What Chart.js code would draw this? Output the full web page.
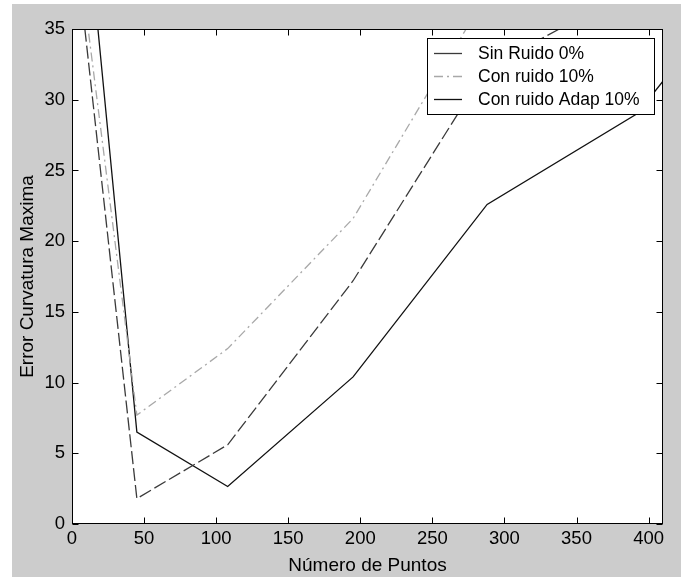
<!DOCTYPE html>
<html>
<head>
<meta charset="utf-8">
<script src="https://cdn.jsdelivr.net/npm/chart.js@4.4.1/dist/chart.umd.min.js"></script>
<style>
  html, body { margin: 0; padding: 0; background: #fff; }
  #wrap { width: 681px; height: 577px; position: relative; }
</style>
</head>
<body>
<div id="wrap"><canvas id="grafico" width="681" height="577"></canvas></div>
<script>
// Datos
const numPuntos = [5, 45, 108, 195, 288, 392, 420];
const sinRuido = [38.6, 1.8, 5.6, 17.2, 32.3, 37.9, null];
const conRuido = [40.0, 7.7, 12.4, 21.6, 37.5, null, null];
const conRuidoAdap = [48.7, 6.5, 2.65, 10.4, 22.6, 29.0, 32.6];

const etiquetas = ['Sin Ruido 0%', 'Con ruido 10%', 'Con ruido Adap 10%'];
const xTicks = [0, 50, 100, 150, 200, 250, 300, 350, 400];
const yTicks = [0, 5, 10, 15, 20, 25, 30, 35];

const FUENTE = '"Liberation Sans", Arial, sans-serif';

function puntos(serie) {
    const out = [];
    serie.forEach((v, i) => {
        if (v !== null) out.push({ x: numPuntos[i], y: v });
    });
    return out;
}

const estilos = [
    { color: '#3a3a3a', dash: [13, 4], width: 1.3 },
    { color: '#a8a8a8', dash: [9, 4, 2, 4], width: 1.3 },
    { color: '#111111', dash: [], width: 1.3 }
];

// Marco tipo MATLAB: fondo gris, caja, ticks hacia dentro, leyenda y titulos
const marcoMatlab = {
    id: 'marcoMatlab',
    beforeDraw(chart) {
        const { ctx, chartArea: a } = chart;
        ctx.save();
        ctx.fillStyle = '#ffffff';
        ctx.fillRect(0, 0, chart.width, chart.height);
        ctx.fillStyle = '#cccccc';
        ctx.fillRect(12, 4, chart.width - 12, chart.height - 4);
        ctx.fillStyle = '#ffffff';
        ctx.fillRect(a.left, a.top, a.right - a.left, a.bottom - a.top);
        ctx.restore();
    },
    afterDatasetsDraw(chart) {
        const { ctx, chartArea: a, scales } = chart;
        const L = Math.round(a.left) + 0.5, R = Math.round(a.right) - 0.5;
        const T = Math.round(a.top) + 0.5, B = Math.round(a.bottom) - 0.5;
        const tk = 6;
        ctx.save();
        ctx.strokeStyle = '#000';
        ctx.lineWidth = 1;
        ctx.setLineDash([]);
        ctx.beginPath();
        xTicks.forEach(v => {
            const px = Math.round(scales.x.getPixelForValue(v)) + 0.5;
            ctx.moveTo(px, B); ctx.lineTo(px, B - tk);
            ctx.moveTo(px, T); ctx.lineTo(px, T + tk);
        });
        yTicks.forEach(v => {
            const py = Math.round(scales.y.getPixelForValue(v)) + 0.5;
            ctx.moveTo(L, py); ctx.lineTo(L + tk, py);
            ctx.moveTo(R, py); ctx.lineTo(R - tk, py);
        });
        ctx.stroke();
        ctx.strokeRect(L, T, R - L, B - T);

        // leyenda
        const lx = 427.5, ly = 38.5, lw = 227, lh = 76;
        ctx.fillStyle = '#ffffff';
        ctx.fillRect(lx, ly, lw, lh);
        ctx.strokeStyle = '#000';
        ctx.strokeRect(lx, ly, lw, lh);
        ctx.font = '17.5px ' + FUENTE;
        ctx.textBaseline = 'middle';
        ctx.textAlign = 'left';
        etiquetas.forEach((t, i) => {
            const y = 53 + i * 23;
            const e = estilos[i];
            ctx.strokeStyle = e.color;
            ctx.lineWidth = e.width;
            ctx.setLineDash(i === 0 ? [] : e.dash);
            ctx.beginPath();
            ctx.moveTo(434, y + 0.5);
            ctx.lineTo(462, y + 0.5);
            ctx.stroke();
            ctx.fillStyle = '#000';
            ctx.fillText(t, 478, y + 1);
        });
        ctx.setLineDash([]);

        // titulos de ejes
        ctx.font = '19px ' + FUENTE;
        ctx.fillStyle = '#000';
        ctx.textAlign = 'center';
        ctx.fillText('Número de Puntos', (a.left + a.right) / 2, 566);
        ctx.translate(28, (a.top + a.bottom) / 2);
        ctx.rotate(-Math.PI / 2);
        ctx.fillText('Error Curvatura Maxima', 0, 0);
        ctx.restore();
    }
};

new Chart(document.getElementById('grafico'), {
    type: 'line',
    data: {
        datasets: [sinRuido, conRuido, conRuidoAdap].map((serie, i) => ({
            label: etiquetas[i],
            data: puntos(serie),
            borderColor: estilos[i].color,
            borderWidth: estilos[i].width,
            borderDash: estilos[i].dash,
            pointRadius: 0,
            tension: 0,
            fill: false
        }))
    },
    options: {
        responsive: false,
        animation: false,
        devicePixelRatio: 1,
        layout: { padding: { left: 0, top: 29, right: 18, bottom: 0 } },
        plugins: {
            legend: { display: false },
            tooltip: { enabled: false }
        },
        scales: {
            x: {
                type: 'linear',
                min: 0,
                max: 410,
                afterBuildTicks: s => { s.ticks = xTicks.map(v => ({ value: v })); },
                afterFit: s => { s.height = 53; },
                grid: { display: false, drawTicks: false },
                border: { display: false },
                ticks: {
                    color: '#000',
                    font: { family: FUENTE, size: 18.5 },
                    padding: 4,
                    maxRotation: 0,
                    autoSkip: false
                }
            },
            y: {
                type: 'linear',
                min: 0,
                max: 35,
                afterBuildTicks: s => { s.ticks = yTicks.map(v => ({ value: v })); },
                afterFit: s => { s.width = 72; },
                grid: { display: false, drawTicks: false },
                border: { display: false },
                ticks: {
                    color: '#000',
                    font: { family: FUENTE, size: 18.5 },
                    padding: 7,
                    autoSkip: false
                }
            }
        }
    },
    plugins: [marcoMatlab]
});
</script>
</body>
</html>
